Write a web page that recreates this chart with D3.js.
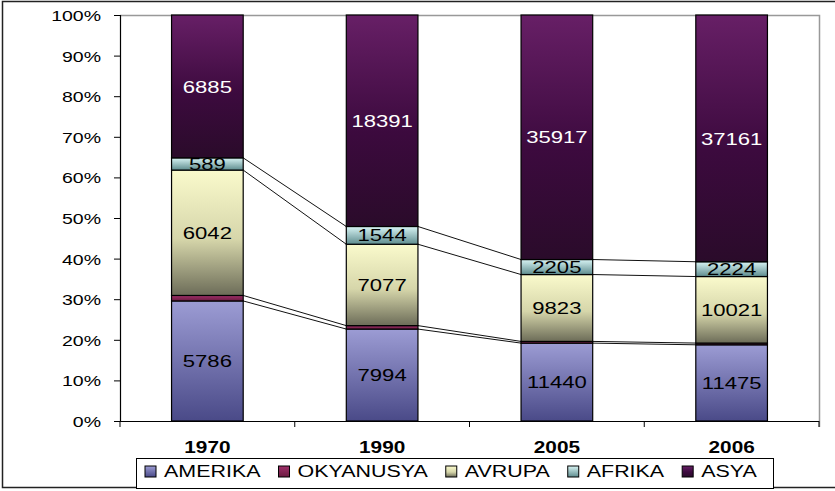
<!DOCTYPE html>
<html lang="tr">
<head>
<meta charset="UTF-8">
<title>Nüfus</title>
<script src="https://cdn.jsdelivr.net/npm/d3@7"></script>
<style>
  body { margin: 0; background: #fff; }
  svg text { font-family: Arial, "Liberation Sans", sans-serif; }
</style>
</head>
<body>
<div id="chart"></div>
<script>
// data
const years = ["1970", "1990", "2005", "2006"];
const seriesNames = ["AMERIKA", "OKYANUSYA", "AVRUPA", "AFRIKA", "ASYA"];
const amerika   = [5786, 7994, 11440, 11475];
const okyanusya = [265, 300, 250, 260];   // no labels in the picture, estimated
const avrupa    = [6042, 7077, 9823, 10021];
const afrika    = [589, 1544, 2205, 2224];
const asya      = [6885, 18391, 35917, 37161];
const yTicks = [0, 0.1, 0.2, 0.3, 0.4, 0.5, 0.6, 0.7, 0.8, 0.9, 1];

const W = 835, H = 491;
const plot = {left: 120, right: 819, top: 15, bottom: 421};
const SX = 1.3; // text in the picture is stretched sideways

const values = [amerika, okyanusya, avrupa, afrika, asya];
const rows = years.map((yr, i) => {
    const r = {year: yr};
    seriesNames.forEach((s, k) => r[s] = values[k][i]);
    return r;
});

const svg = d3.select("#chart").append("svg")
    .attr("width", W).attr("height", H);

// gradients, one per series, light at top
const grads = {
    AMERIKA:   [["0%", "#9c9cd4"], ["100%", "#4a4a88"]],
    OKYANUSYA: [["0%", "#a0306a"], ["100%", "#6a1a40"]],
    AVRUPA:    [["0%", "#fafacc"], ["55%", "#d6d6aa"], ["100%", "#6c6c58"]],
    AFRIKA:    [["0%", "#d8f4f4"], ["100%", "#5e8c8e"]],
    ASYA:      [["0%", "#671f66"], ["55%", "#3c0a3e"], ["100%", "#2a0b2a"]]
};
const swatch = {AMERIKA: "#5b5b96", OKYANUSYA: "#7a1f4a", AVRUPA: "#a8a888",
                AFRIKA: "#8ab8ba", ASYA: "#4a0c48"};
const defs = svg.append("defs");
seriesNames.forEach((s, k) => {
    const g = defs.append("linearGradient").attr("id", "g" + k)
        .attr("x1", 0).attr("y1", 0).attr("x2", 0).attr("y2", 1);
    grads[s].forEach(st => g.append("stop").attr("offset", st[0]).attr("stop-color", st[1]));
});

// outer frame
svg.append("rect")
    .attr("x", 2.5).attr("y", 1.5).attr("width", 900).attr("height", 486)
    .attr("fill", "none").attr("stroke", "#222").attr("stroke-width", 1.5);

const x = d3.scaleBand().domain(years)
    .range([plot.left, plot.right])
    .paddingInner(0.59).paddingOuter(0.295);
const y = d3.scaleLinear().domain([0, 1]).range([plot.bottom, plot.top]);

const stacked = d3.stack().keys(seriesNames).offset(d3.stackOffsetExpand)(rows);

function stretchedText(g, px, py, str) {
    return g.append("text")
        .attr("transform", "translate(" + px + "," + py + ") scale(" + SX + ",1)")
        .text(str);
}

// plot border top + right
svg.append("path")
    .attr("d", "M" + plot.left + "," + (plot.top + 0.5) + "H" + (plot.right + 0.5) + "V" + (plot.bottom + 6))
    .attr("fill", "none").attr("stroke", "#999").attr("stroke-width", 1.5);

// connector lines between bars
const bw = x.bandwidth();
stacked.slice(0, 4).forEach(layer => {
    for (let i = 0; i < years.length - 1; i++) {
        svg.append("line")
            .attr("x1", x(years[i]) + bw).attr("y1", y(layer[i][1]))
            .attr("x2", x(years[i + 1])).attr("y2", y(layer[i + 1][1]))
            .attr("stroke", "#111").attr("stroke-width", 1);
    }
});

// bars
stacked.forEach((layer, k) => {
    svg.append("g").selectAll("rect").data(layer).join("rect")
        .attr("x", d => x(d.data.year))
        .attr("y", d => y(d[1]))
        .attr("width", bw)
        .attr("height", d => y(d[0]) - y(d[1]))
        .attr("fill", "url(#g" + k + ")")
        .attr("stroke", "#000").attr("stroke-width", 1.2);
});

// value labels
const lab = svg.append("g").attr("font-size", 17).attr("text-anchor", "middle");
stacked.forEach((layer, k) => {
    if (layer.key === "OKYANUSYA") return;
    layer.forEach(d => {
        stretchedText(lab, x(d.data.year) + bw / 2, (y(d[0]) + y(d[1])) / 2, d.data[layer.key])
            .attr("dy", "0.36em")
            .attr("fill", layer.key === "ASYA" ? "#fff" : "#000");
    });
});

// y axis
const yAxis = d3.axisLeft(y).tickValues(yTicks).tickFormat(d3.format(".0%")).tickSize(6);
const ya = svg.append("g").attr("transform", "translate(" + plot.left + ",0)").call(yAxis);
ya.select(".domain").attr("stroke", "#000").attr("stroke-width", 1.2);
ya.selectAll(".tick line").attr("stroke", "#000");
ya.selectAll(".tick text")
    .attr("x", null).attr("dy", "0.36em")
    .attr("transform", "translate(-19,0) scale(" + SX + ",1)")
    .attr("font-size", 15).attr("fill", "#000");

// x axis
svg.append("line")
    .attr("x1", plot.left - 6).attr("x2", plot.right)
    .attr("y1", plot.bottom + 0.5).attr("y2", plot.bottom + 0.5)
    .attr("stroke", "#000").attr("stroke-width", 1.2);
const step = x.step();
d3.range(years.length + 1).forEach(i => {
    const xx = plot.left + i * step;
    svg.append("line").attr("x1", xx).attr("x2", xx)
        .attr("y1", plot.bottom).attr("y2", plot.bottom + 6)
        .attr("stroke", "#000");
});
const xl = svg.append("g").attr("font-size", 16).attr("font-weight", "bold").attr("text-anchor", "middle");
years.forEach(yr => stretchedText(xl, x(yr) + bw / 2, 453, yr));

// legend
const leg = svg.append("g");
leg.append("rect").attr("x", 136.5).attr("y", 458.5).attr("width", 637).attr("height", 30)
    .attr("fill", "#fff").attr("stroke", "#000");
let lx = 145;
seriesNames.forEach((s, k) => {
    leg.append("rect").attr("x", lx).attr("y", 466).attr("width", 11).attr("height", 11)
        .attr("fill", "url(#g" + k + ")").attr("stroke", "#000");
    const t = stretchedText(leg, lx + 19, 477, s).attr("font-size", 16.5);
    lx += 19 + t.node().getComputedTextLength() * SX + 18;
});
</script>
</body>
</html>
